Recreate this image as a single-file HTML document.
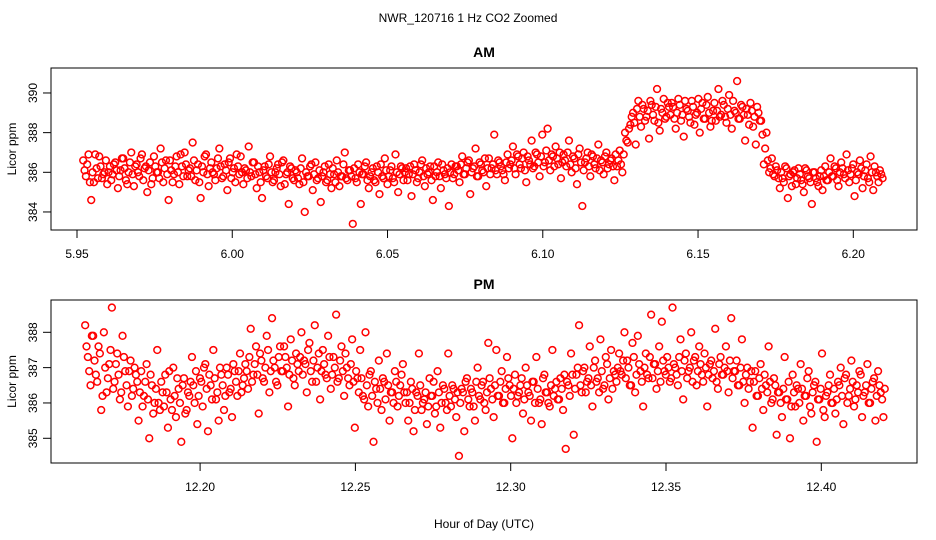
<!DOCTYPE html>
<html><head><meta charset="utf-8"><style>
body{margin:0;background:#fff}
svg{display:block;font-family:"Liberation Sans",sans-serif}
</style></head><body>
<svg id="c" width="936" height="540" viewBox="0 0 936 540">
<text x="468" y="22" text-anchor="middle" font-size="12">NWR_120716  1 Hz CO2 Zoomed</text>
<text x="484" y="528" text-anchor="middle" font-size="12">Hour of Day (UTC)</text>
</svg>
<script>
const amTimeStart = 5.952, amTimeEnd = 6.209;
const amValues = [
386.6,385.8,386.9,384.6,385.5,386.2,386.8,385.7,386.0,385.4,386.3,385.9,386.5,385.2,386.1,386.7,385.6,386.0,387.0,385.3,
386.4,385.8,386.9,386.2,385.0,386.5,385.7,386.3,386.0,387.2,385.5,386.6,384.6,386.1,385.9,386.8,385.4,386.3,387.0,385.8,
386.2,387.5,385.6,386.4,384.7,386.0,386.9,385.3,386.5,385.9,386.2,387.2,385.7,386.4,385.1,386.7,386.0,385.5,386.3,386.8,
385.4,386.1,387.3,385.8,386.5,385.2,386.0,384.7,386.3,385.7,386.8,385.5,386.0,386.4,385.3,386.6,385.9,384.4,386.2,385.6,
386.0,385.4,386.7,384.0,385.8,386.3,385.1,386.5,385.7,384.5,386.0,385.5,386.4,385.2,385.9,386.6,385.3,385.8,387.0,385.6,
386.1,383.4,385.7,386.4,384.4,385.9,386.5,385.2,386.0,385.6,386.3,384.9,385.8,386.7,385.4,386.1,385.7,386.9,385.0,386.3,
385.6,386.2,385.9,384.8,386.4,385.5,386.0,386.6,385.3,385.9,386.3,384.6,385.8,386.5,385.2,386.1,385.7,384.3,386.4,385.9,
386.3,385.5,386.8,385.9,386.5,384.9,386.2,387.2,385.8,386.4,386.0,385.3,386.7,386.2,387.9,385.9,386.5,386.1,385.6,386.9,
386.4,387.3,385.9,386.8,386.2,387.0,385.5,386.6,387.6,386.3,386.9,385.8,387.9,386.5,388.2,386.1,386.8,387.3,386.4,385.7,
386.9,386.3,387.6,386.0,386.7,385.4,387.2,384.3,386.5,387.0,385.8,386.8,386.2,387.4,386.6,385.9,387.0,386.4,386.7,385.6,
386.3,387.1,386.0,388.0,387.5,388.4,389.0,387.4,389.6,388.3,389.2,388.8,387.7,389.4,388.6,390.2,388.1,389.0,388.7,389.5,
388.9,389.3,388.2,389.7,388.6,387.8,389.2,388.8,389.6,388.4,389.0,388.0,389.5,388.7,389.8,388.3,389.1,388.6,390.2,388.9,
389.4,388.5,389.9,388.2,389.1,390.6,388.7,389.3,387.6,388.9,389.5,388.3,387.4,389.0,388.6,386.4,388.0,386.0,386.7,385.8,
386.1,385.2,385.7,386.3,384.7,385.9,386.0,385.4,386.2,385.6,385.0,386.1,385.7,384.4,386.0,385.5,385.8,385.1,386.3,385.6,
386.7,385.8,386.2,385.3,386.5,385.9,386.9,385.5,386.2,384.8,386.0,386.6,385.2,386.1,385.7,386.8,385.1,386.0,385.5,385.9];
const amValuesB = [
386.1,386.4,385.5,386.0,386.9,385.7,386.3,385.9,386.6,386.0,385.6,386.4,386.1,385.8,386.7,386.2,385.4,386.5,385.9,386.3,
386.0,386.7,385.6,386.3,386.1,385.4,386.8,386.0,385.7,386.5,386.2,385.9,386.6,385.5,386.3,386.0,386.9,385.8,386.4,386.1,
385.8,386.6,386.1,385.5,386.3,386.8,385.9,386.2,386.0,385.6,386.7,386.3,385.8,386.1,386.5,385.7,386.2,386.9,385.9,386.0,
386.2,385.7,386.0,386.5,385.9,386.3,385.5,386.1,385.8,386.4,386.0,385.6,386.2,385.9,386.5,385.4,386.0,386.3,385.7,386.1,
385.7,386.2,385.5,386.0,385.8,386.4,385.9,385.6,386.1,385.8,386.3,385.6,385.9,386.2,385.5,386.0,385.8,386.4,385.7,386.1,
385.8,386.2,385.5,386.0,385.9,386.3,385.6,385.8,386.2,385.5,386.0,386.4,385.7,386.1,385.8,386.3,385.5,386.0,385.9,386.2,
386.0,385.6,386.3,385.9,386.1,385.7,386.4,385.8,386.2,386.0,385.6,386.3,386.0,385.8,386.4,385.9,386.2,386.0,385.7,386.3,
386.1,386.4,385.9,386.2,386.6,386.0,386.3,385.8,386.5,386.1,386.7,386.2,385.9,386.4,386.1,386.6,386.3,385.9,386.5,386.2,
386.6,386.2,386.9,386.4,386.7,386.1,386.8,386.4,386.2,387.0,386.5,386.8,386.3,387.1,386.6,386.9,386.3,386.7,387.0,386.5,
386.6,387.0,386.4,386.8,386.2,386.9,386.5,386.1,386.7,386.3,386.9,386.4,386.7,386.1,386.5,386.8,386.2,386.6,386.3,386.9,
386.6,386.4,386.9,387.6,388.2,388.8,388.5,389.2,388.8,389.4,388.6,389.1,389.6,388.9,389.3,388.5,389.2,389.7,388.8,389.3,
389.5,388.7,389.0,389.4,388.9,389.6,389.1,388.5,389.3,388.9,389.7,389.2,388.7,389.4,389.0,388.6,389.5,389.1,388.8,389.6,
388.8,389.2,388.9,389.6,389.0,388.7,389.4,388.9,389.2,388.4,389.1,388.8,389.3,388.6,387.9,387.2,386.6,386.2,385.9,386.3,
385.7,386.0,385.5,386.2,385.8,385.3,386.1,385.7,385.9,385.4,386.2,385.8,385.5,386.0,385.7,385.3,386.1,385.8,385.6,386.0,
385.8,386.3,385.6,386.0,386.2,385.7,386.1,385.9,386.4,385.6,385.9,386.2,385.8,386.4,385.5,386.0,386.3,385.8,386.1,385.7];
const pmTimeStart = 12.163, pmTimeEnd = 12.420;
const pmValues = [
388.2,387.3,386.5,387.9,386.8,387.6,385.8,388.0,386.3,387.1,388.7,386.6,387.4,386.1,387.9,386.9,385.9,387.2,386.4,386.8,
385.5,386.9,386.2,387.1,385.0,386.5,386.0,387.5,385.8,386.3,386.8,385.3,386.1,387.0,385.6,386.4,384.9,386.7,385.8,386.2,
387.3,386.0,385.4,386.7,385.9,387.1,385.2,386.5,387.5,386.1,385.5,386.8,385.8,387.0,386.3,385.6,386.9,386.2,387.4,386.5,
387.1,386.4,388.1,386.8,387.6,385.7,387.2,386.6,387.9,386.3,388.4,387.0,386.5,387.6,386.9,387.3,385.9,387.8,386.7,387.4,
386.9,388.0,387.2,386.3,387.7,386.6,388.2,387.0,386.1,387.5,386.8,387.9,386.4,387.3,388.5,386.7,387.6,386.2,387.0,386.5,
387.8,385.3,386.7,387.5,386.2,388.0,385.9,386.9,384.9,386.4,387.2,385.8,386.6,387.4,385.5,386.3,386.9,385.9,386.5,387.1,
386.0,385.5,386.6,385.2,386.3,387.4,385.8,386.1,385.4,386.7,386.2,385.7,386.9,385.3,386.5,386.0,387.4,385.9,386.4,385.6,
384.5,386.4,385.2,386.7,385.9,386.3,385.5,387.0,386.1,386.6,385.8,387.7,386.4,385.6,387.5,386.2,386.9,386.0,387.3,386.5,
385.0,386.8,386.2,386.5,385.7,387.0,386.3,385.5,386.6,387.3,386.0,385.4,386.8,386.3,385.9,387.5,386.4,386.1,386.7,385.8,
384.7,386.5,387.4,385.1,386.8,388.2,386.3,387.0,386.6,387.6,385.9,387.2,386.7,387.8,386.4,387.3,386.1,387.5,386.9,386.6,
387.4,386.8,388.0,387.2,386.5,387.7,386.3,387.9,386.9,385.9,387.4,386.7,388.5,387.1,386.4,387.6,388.3,386.9,387.3,386.6,
388.7,387.0,386.5,387.8,386.1,387.4,386.9,388.0,387.2,386.5,387.6,386.8,387.4,385.9,387.1,386.7,388.1,386.4,387.3,386.8,
387.6,386.3,388.4,386.9,387.2,386.5,387.8,386.0,387.0,386.6,385.3,386.9,386.2,387.1,385.8,386.5,387.6,386.0,386.7,385.1,
386.3,385.6,387.3,386.1,385.0,386.8,385.9,386.4,387.1,385.5,386.2,386.9,385.7,386.5,384.9,386.1,387.4,385.6,386.3,386.8,
386.0,385.7,386.6,387.0,385.4,386.8,386.2,387.2,385.9,386.5,386.9,385.6,386.3,387.1,386.0,386.6,385.5,386.9,386.3,385.6];
const pmValuesB = [
387.6,386.9,387.9,387.2,386.6,387.4,386.2,387.0,386.7,387.5,386.4,387.1,386.8,386.3,387.3,386.5,386.9,386.2,387.0,386.6,
386.3,385.9,386.6,386.1,386.8,385.7,386.4,386.0,386.6,385.9,386.3,386.9,385.8,386.2,386.7,386.0,386.5,385.7,386.3,386.6,
386.5,386.9,386.2,386.6,387.0,386.4,386.8,386.1,386.7,386.3,387.0,386.5,386.2,386.8,386.4,387.1,386.6,386.9,386.3,386.7,
386.9,387.3,386.6,387.1,386.8,387.4,386.7,387.0,387.5,386.9,387.2,386.6,387.3,386.9,387.6,387.0,386.8,387.2,386.5,387.1,
387.3,386.8,387.1,387.5,386.9,387.2,386.6,387.4,386.9,387.1,386.7,387.3,386.8,387.0,386.6,387.2,386.9,387.4,386.7,387.1,
386.6,386.9,386.3,386.7,386.1,386.5,386.8,386.2,386.6,386.0,386.4,386.7,386.1,386.5,386.3,386.0,386.6,386.2,386.8,386.3,
386.3,386.0,386.4,385.8,386.2,386.5,386.0,386.3,385.9,386.2,386.6,385.9,386.3,386.0,386.4,385.8,386.2,386.5,386.1,386.3,
386.0,386.3,386.6,386.1,386.4,385.9,386.6,386.2,386.5,386.0,386.3,386.7,386.1,386.5,386.2,386.6,386.0,386.4,386.7,386.2,
386.4,386.0,386.3,386.7,386.1,386.5,386.2,386.6,386.0,386.4,386.1,386.7,386.3,386.0,386.5,386.2,386.6,386.1,386.4,386.8,
386.6,386.2,386.8,386.4,387.0,386.5,386.9,386.3,386.7,386.5,387.0,386.6,386.3,386.9,386.5,387.1,386.7,386.4,386.8,387.0,
386.9,387.2,386.7,387.0,386.5,387.3,386.8,387.1,386.6,387.0,386.8,387.3,386.7,387.1,386.9,386.6,387.2,386.8,387.0,386.7,
387.1,386.8,387.3,386.9,387.2,386.7,387.0,386.6,387.3,386.9,387.1,386.6,387.0,386.8,387.2,386.9,386.6,387.1,386.8,387.0,
386.9,387.2,386.7,386.9,386.5,387.0,386.6,386.8,386.4,386.9,386.6,386.2,386.7,386.4,386.8,386.3,386.6,386.1,386.5,386.3,
386.0,386.4,386.1,386.6,385.9,386.3,386.5,386.0,386.4,386.2,386.7,385.9,386.3,386.6,386.1,386.4,385.8,386.2,386.5,386.0,
386.4,386.1,386.5,386.2,386.7,386.0,386.4,386.6,386.1,386.3,386.8,386.2,386.5,386.0,386.4,386.7,386.2,386.5,386.1,386.4];
const amXTicks = [5.95, 6.00, 6.05, 6.10, 6.15, 6.20];
const amXLabels = ["5.95","6.00","6.05","6.10","6.15","6.20"];
const amYTicks = [384, 386, 388, 390];
const pmXTicks = [12.20, 12.25, 12.30, 12.35, 12.40];
const pmXLabels = ["12.20","12.25","12.30","12.35","12.40"];
const pmYTicks = [385, 386, 387, 388];

const NS = "http://www.w3.org/2000/svg";
const svg = document.getElementById('c');
function mk(tag, attrs, parent){
  const e = document.createElementNS(NS, tag);
  for (const k in attrs) e.setAttribute(k, attrs[k]);
  (parent||svg).appendChild(e);
  return e;
}
function panel(cfg){
  const g = mk('g', {});
  
  
  const xs = v => cfg.x0px + (v - cfg.x0) * cfg.xk;
  const ys = v => cfg.y0px - (v - cfg.y0) * cfg.yk;
  const box = mk('rect', {x:cfg.L, y:cfg.T, width:cfg.R-cfg.L, height:cfg.B-cfg.T, fill:'none', stroke:'#000', 'stroke-width':1}, g);
  
  
  const t = mk('text', {x:(cfg.L+cfg.R)/2, y:cfg.T-11, 'text-anchor':'middle', 'font-size':14, 'font-weight':'bold'}, g);
  t.textContent = cfg.title;
  
  
  const xa = mk('g', {}, g);
  
  
  mk('line', {x1:xs(cfg.xt[0]), x2:xs(cfg.xt[cfg.xt.length-1]), y1:cfg.B, y2:cfg.B, stroke:'#000'}, xa);
  cfg.xt.forEach((v,i)=>{
    mk('line', {x1:xs(v), x2:xs(v), y1:cfg.B, y2:cfg.B+8, stroke:'#000'}, xa);
    const l = mk('text', {x:xs(v), y:cfg.B+28, 'text-anchor':'middle', 'font-size':12}, xa);
    l.textContent = cfg.xl[i];
    
    
  });
  const ya = mk('g', {}, g);
  
  
  mk('line', {x1:cfg.L, x2:cfg.L, y1:ys(cfg.yt[0]), y2:ys(cfg.yt[cfg.yt.length-1]), stroke:'#000'}, ya);
  cfg.yt.forEach(v=>{
    mk('line', {x1:cfg.L-8, x2:cfg.L, y1:ys(v), y2:ys(v), stroke:'#000'}, ya);
    const l = mk('text', {x:0, y:0, 'text-anchor':'middle', 'font-size':12, transform:`translate(${cfg.L-14},${ys(v)}) rotate(-90)`}, ya);
    l.textContent = String(v);
    
    
  });
  const yl = mk('text', {x:0, y:0, 'text-anchor':'middle', 'font-size':12, transform:`translate(16,${(cfg.T+cfg.B)/2}) rotate(-90)`}, g);
  yl.textContent = 'Licor ppm';
  
  
  const pts = mk('g', {fill:'none', stroke:'#ff0000', 'stroke-width':1.5}, g);
  
  
  [cfg.vals, cfg.valsB].forEach((arr, k)=>{
    const n = arr.length;
    const step = (cfg.te - cfg.ts) / (n - 1);
    arr.forEach((v,i)=>{
      const tm = cfg.ts + step * i + (k ? step/2 : 0);
      const c = mk('circle', {cx:xs(tm), cy:ys(v), r:3.4}, pts);
      
      
    });
  });
}
panel({name:'am', title:'AM', L:51, R:917, T:68, B:230, x0:5.95, x0px:77, xk:3105.2, y0:386, y0px:172.3, yk:19.83,
  xt:amXTicks, xl:amXLabels, yt:amYTicks, vals:amValues, valsB:amValuesB, ts:amTimeStart, te:amTimeEnd});
panel({name:'pm', title:'PM', L:51, R:917, T:300, B:463, x0:12.20, x0px:200.1, xk:3106, y0:388, y0px:332.3, yk:35.33,
  xt:pmXTicks, xl:pmXLabels, yt:pmYTicks, vals:pmValues, valsB:pmValuesB, ts:pmTimeStart, te:pmTimeEnd});
</script>
</body></html>
